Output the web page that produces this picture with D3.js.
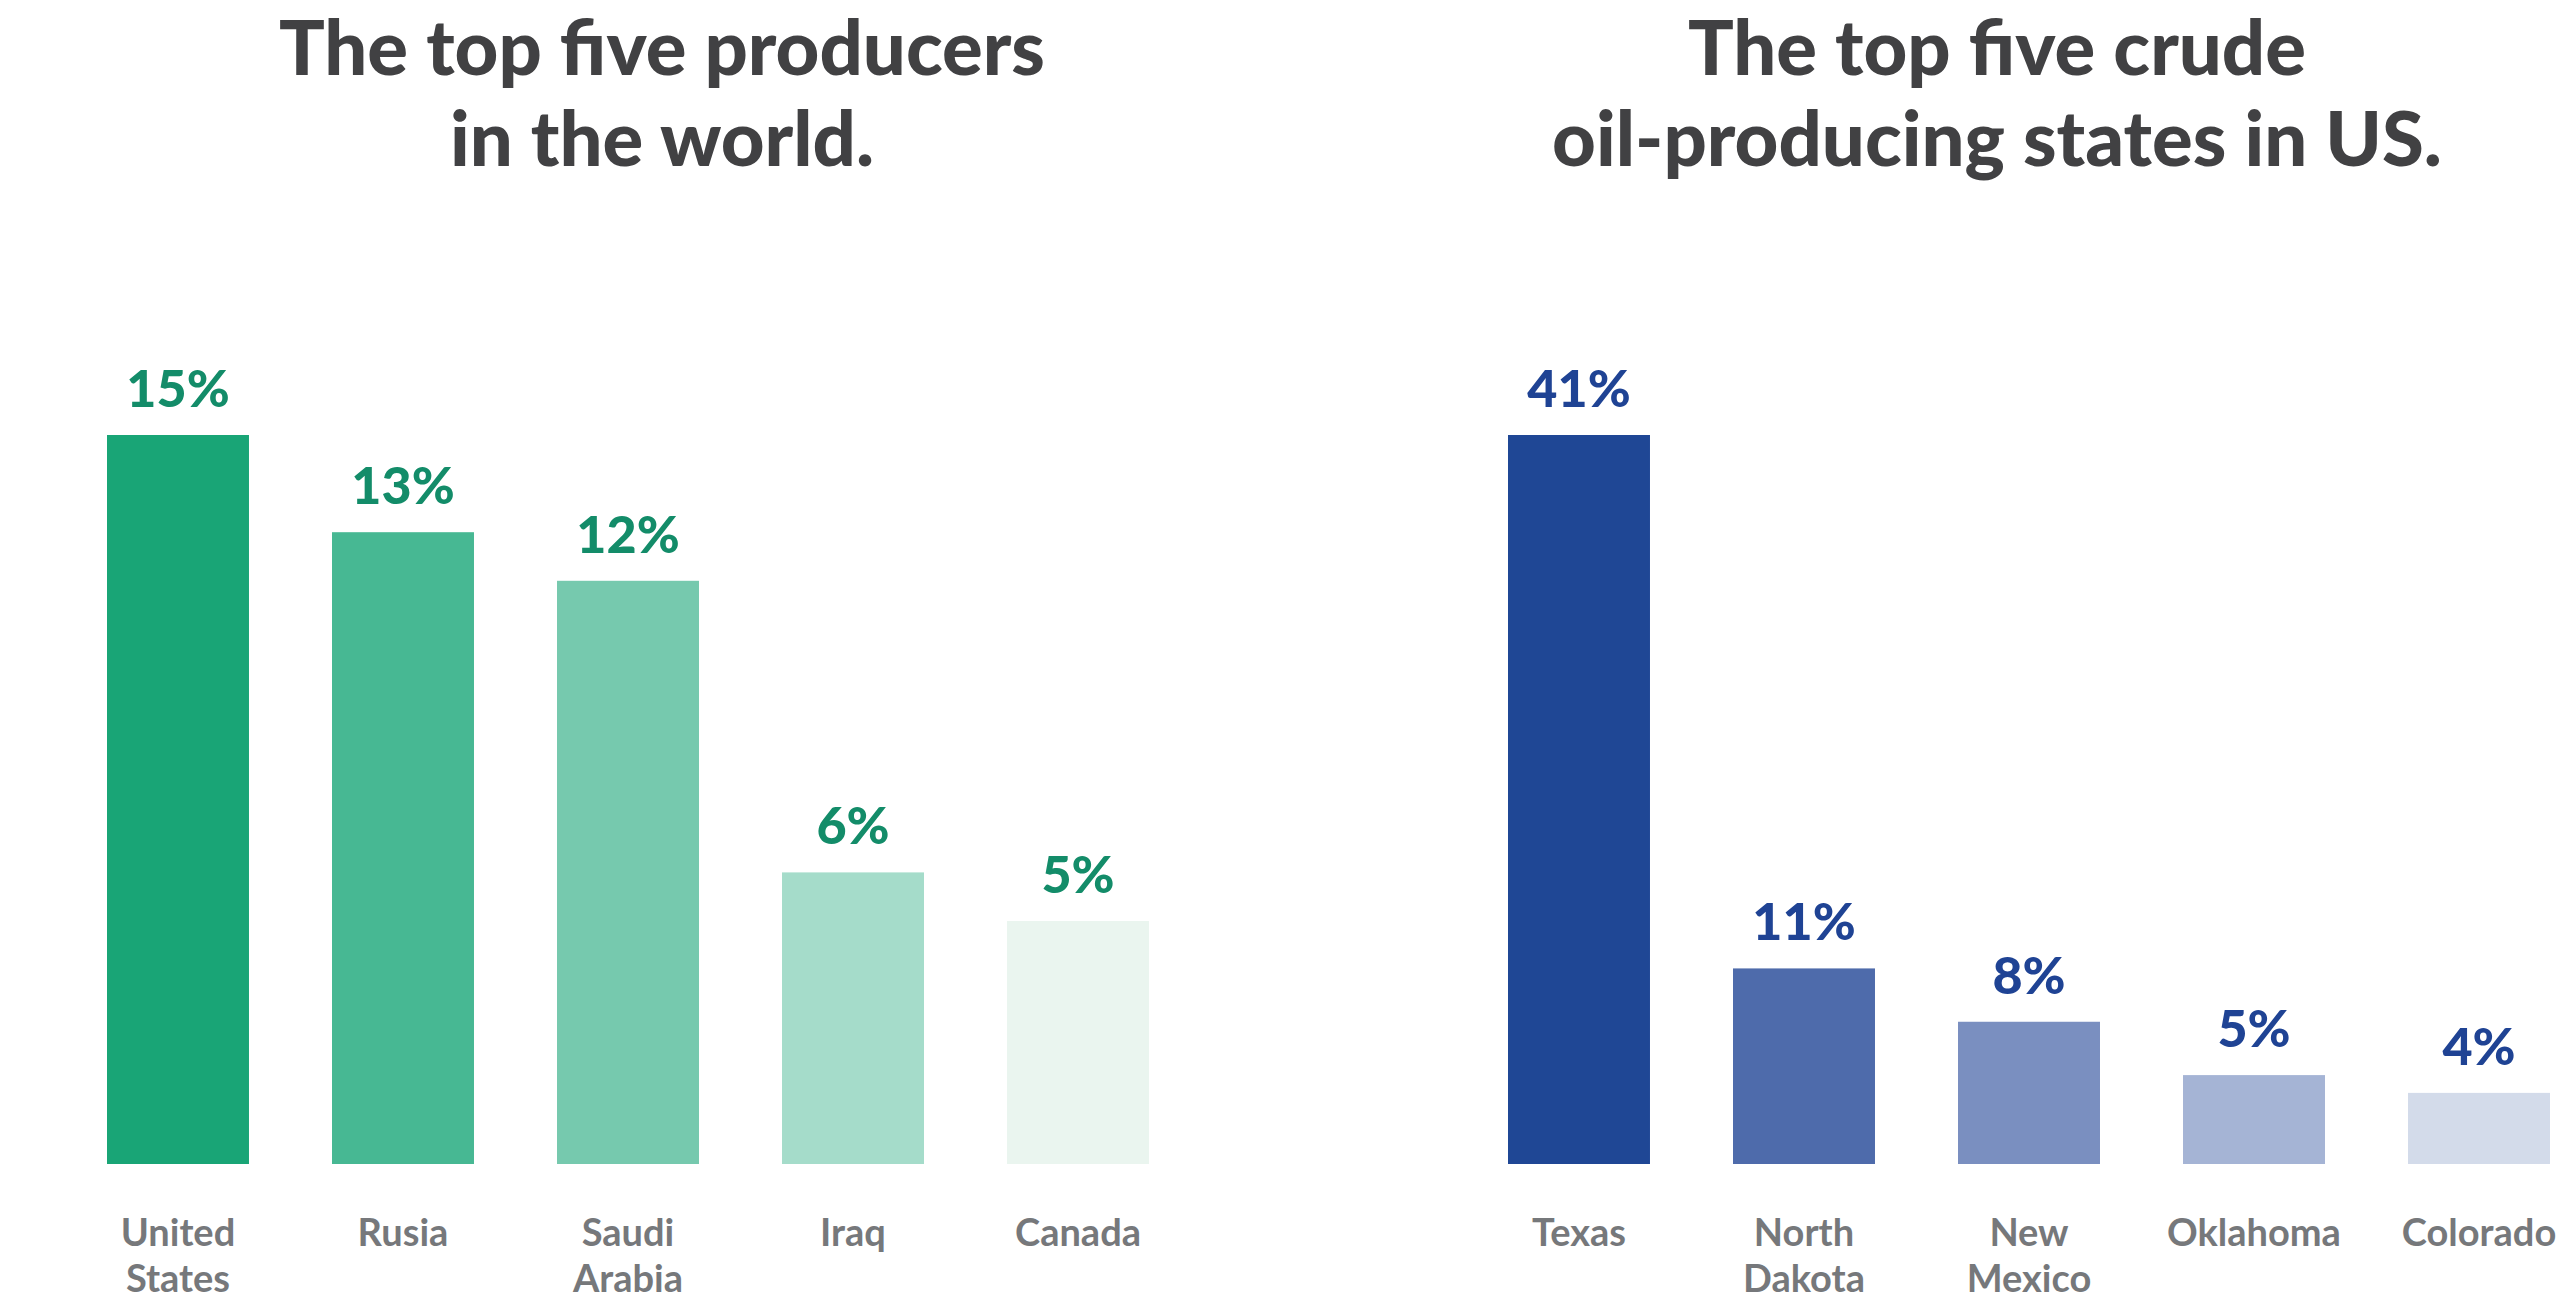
<!DOCTYPE html>
<html>
	<head>
		<title>D3 - Top oil producers</title>
		<script src="https://d3js.org/d3.v7.min.js"></script>

		<style>
			body {
			  margin: 0;
			  background: #fff;
			}

			.title {
			  font-family: "Lato", sans-serif;
			  font-weight: 900;
			  font-size: 76px;
			  fill: #414143;
			}

			.value {
			  font-family: "Lato", sans-serif;
			  font-weight: 900;
			  font-size: 52px;
			}

			.cat {
			  font-family: "Lato", sans-serif;
			  font-weight: 700;
			  font-size: 38px;
			  fill: #76787b;
			}
		</style>
	</head>

	<body>

		<svg width="2560" height="1308">
		</svg>

        <script type="text/javascript">
			// world chart
			var worldTitle = ["The top five producers", "in the world."];
			var countries = ["United States", "Rusia", "Saudi Arabia", "Iraq", "Canada"];
			var countryShares = [15, 13, 12, 6, 5];
			var greens = ["#19a576", "#47b893", "#76c9ae", "#a5dcca", "#eaf5ef"];

			// US chart
			var usTitle = ["The top five crude", "oil-producing states in US."];
			var states = ["Texas", "North Dakota", "New Mexico", "Oklahoma", "Colorado"];
			var stateShares = [41, 11, 8, 5, 4];
			var blues = ["#1f4795", "#4e6bab", "#7a8fc0", "#a5b4d5", "#d3dbea"];

			var svg = d3.select("svg"),
			    baseY = 1164,
			    topY = 435;

			drawChart({
			  title: worldTitle,
			  titleX: 662,
			  cats: countries,
			  values: countryShares,
			  colors: greens,
			  labelColor: "#138c69",
			  x0: 107,
			  x1: 1149
			});

			drawChart({
			  title: usTitle,
			  titleX: 1997,
			  cats: states,
			  values: stateShares,
			  colors: blues,
			  labelColor: "#1f4394",
			  x0: 1508,
			  x1: 2550
			});

			function drawChart(c) {
			  var g = svg.append("g");

			  var x = d3.scaleBand()
			      .domain(c.cats)
			      .range([c.x0, c.x1])
			      .paddingInner(0.369)
			      .paddingOuter(0);

			  var y = d3.scaleLinear()
			      .domain([0, d3.max(c.values)])
			      .range([baseY, topY]);

			  var rows = c.cats.map(function(d, i) {
			    return { name: d, value: c.values[i], color: c.colors[i] };
			  });

			  g.append("text")
			      .attr("class", "title")
			      .attr("text-anchor", "middle")
			    .selectAll("tspan")
			    .data(c.title)
			    .enter()
			    .append("tspan")
			      .attr("x", c.titleX)
			      .attr("y", function(d, i) { return 75 + i * 91; })
			      .text(function(d) { return d; });

			  g.selectAll("rect")
			    .data(rows)
			    .enter()
			    .append("rect")
			      .attr("x", function(d) { return x(d.name); })
			      .attr("y", function(d) { return y(d.value); })
			      .attr("width", x.bandwidth())
			      .attr("height", function(d) { return baseY - y(d.value); })
			      .style("fill", function(d) { return d.color; });

			  g.selectAll(".value")
			    .data(rows)
			    .enter()
			    .append("text")
			      .attr("class", "value")
			      .attr("text-anchor", "middle")
			      .attr("x", function(d) { return x(d.name) + x.bandwidth() / 2; })
			      .attr("y", function(d) { return y(d.value) - 28; })
			      .style("fill", c.labelColor)
			      .text(function(d) { return d.value + "%"; });

			  g.selectAll(".cat")
			    .data(rows)
			    .enter()
			    .append("text")
			      .attr("class", "cat")
			      .attr("text-anchor", "middle")
			    .selectAll("tspan")
			    .data(function(d) {
			      return d.name.split(" ").map(function(w) { return { word: w, cx: x(d.name) + x.bandwidth() / 2 }; });
			    })
			    .enter()
			    .append("tspan")
			      .attr("x", function(d) { return d.cx; })
			      .attr("y", function(d, i) { return 1246 + i * 46; })
			      .text(function(d) { return d.word; });
			}

        </script>

	</body>
</html>
